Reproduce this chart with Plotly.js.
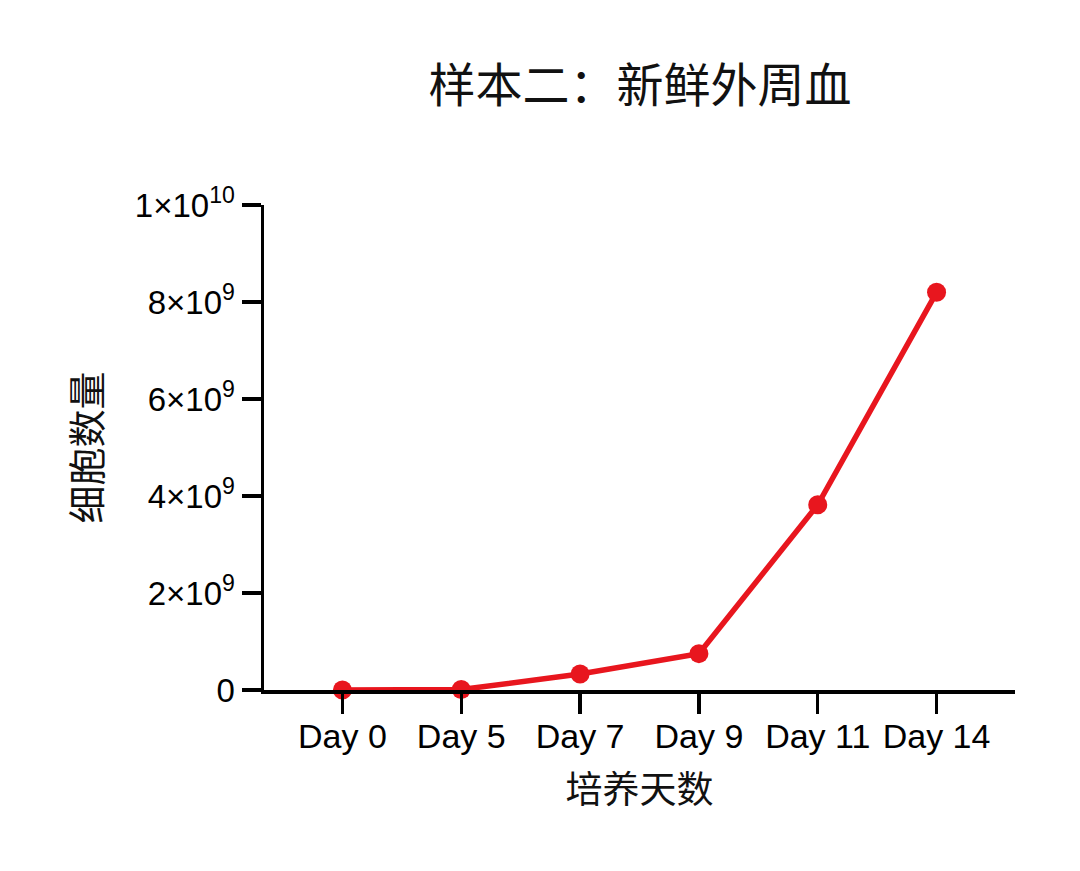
<!DOCTYPE html>
<html>
<head>
<meta charset="utf-8">
<script src="https://cdn.plot.ly/plotly-3.0.1.min.js"></script>
<style>html,body{margin:0;padding:0;background:#fff;}#chart{width:1080px;height:871px;}</style>
</head>
<body>
<div id="chart"></div>
<script>
const days = ["Day 0", "Day 5", "Day 7", "Day 9", "Day 11", "Day 14"];
const cellCounts = [0, 0.01e9, 0.33e9, 0.75e9, 3.82e9, 8.2e9];
const yTickVals = [0, 2e9, 4e9, 6e9, 8e9, 1e10];
const yTickText = ["0", "2×10<sup>9</sup>", "4×10<sup>9</sup>", "6×10<sup>9</sup>", "8×10<sup>9</sup>", "1×10<sup>10</sup>"];
const chartTitle = "样本二：新鲜外周血";
const xTitle = "培养天数";
const yTitle = "细胞数量";

const FONT = "'Liberation Sans', Arial, 'Noto Sans CJK SC', sans-serif";
const CJK = "'Noto Sans CJK SC', 'Liberation Sans', sans-serif";
const red = "#E8161E";

const trace = {
  x: days,
  y: cellCounts,
  type: "scatter",
  mode: "lines+markers",
  line: {color: red, width: 5.5},
  marker: {color: red, size: 19},
  cliponaxis: false,
  showlegend: false
};

const layout = {
  width: 1080, height: 871,
  paper_bgcolor: "#fff", plot_bgcolor: "#fff",
  margin: {l: 264, r: 65, t: 205, b: 181},
  title: {text: chartTitle, font: {family: CJK, size: 47, color: "#111"}, x: 0.5925, xanchor: "center", y: 0.902, yanchor: "middle"},
  xaxis: {
    type: "category",
    range: [-0.66, 5.66],
    showgrid: false, zeroline: false,
    showline: true, linecolor: "#000", linewidth: 3.5,
    ticks: "outside", ticklen: 20, tickwidth: 3.5, tickcolor: "#000",
    ticklabelstandoff: -6,
    tickfont: {family: FONT, size: 34, color: "#000"},
    title: {text: xTitle, font: {family: CJK, size: 37, color: "#111"}, standoff: 24},
    automargin: false
  },
  yaxis: {
    range: [0, 1e10],
    tickvals: yTickVals, ticktext: yTickText,
    showgrid: false, zeroline: false,
    showline: true, linecolor: "#000", linewidth: 3.5,
    ticks: "outside", ticklen: 19, tickwidth: 3.5, tickcolor: "#000",
    tickfont: {family: FONT, size: 33, color: "#000"},
    title: {text: yTitle, font: {family: CJK, size: 38, color: "#111"}, standoff: 22},
    automargin: false
  }
};

Plotly.newPlot("chart", [trace], layout, {displayModeBar: false, staticPlot: true});
</script>
</body>
</html>
